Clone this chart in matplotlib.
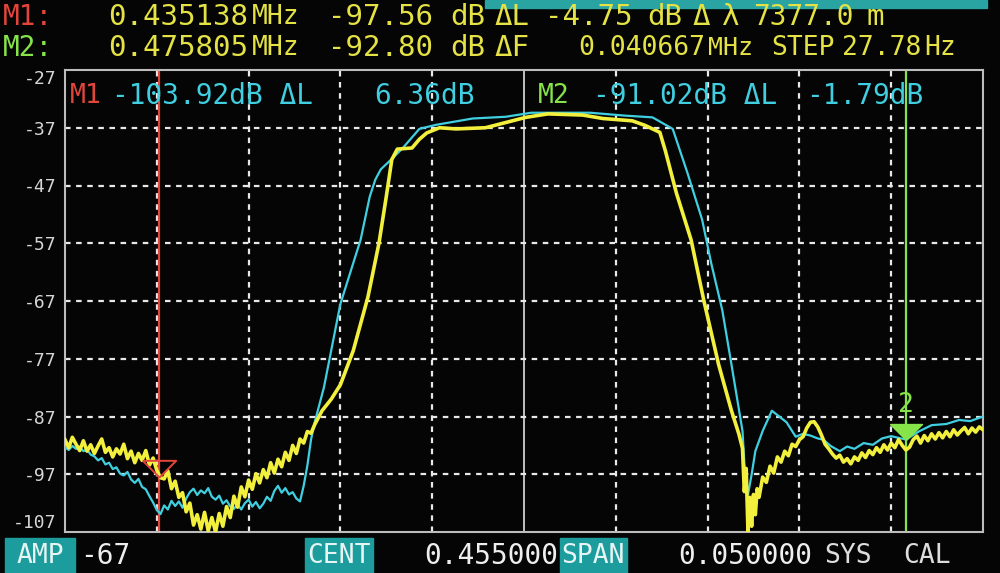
import matplotlib
matplotlib.use("Agg")
import matplotlib.pyplot as plt
from matplotlib.patches import Rectangle

# ---------------------------------------------------------------- data
# yellow trace (MHz, dB)
yellow_freq = [
    0.4300, 0.4302, 0.4304, 0.4306, 0.4308, 0.4310, 0.4312, 0.4314, 0.4316, 0.4318,
    0.4320, 0.4322, 0.4324, 0.4326, 0.4328, 0.4330, 0.4332, 0.4334, 0.4336, 0.4338,
    0.4340, 0.4342, 0.4344, 0.4346, 0.4348, 0.4350, 0.4352, 0.4354, 0.4356, 0.4358,
    0.4360, 0.4362, 0.4364, 0.4366, 0.4368, 0.4370, 0.4372, 0.4374, 0.4376, 0.4378,
    0.4380, 0.4382, 0.4384, 0.4386, 0.4388, 0.4390, 0.4392, 0.4394, 0.4396, 0.4398,
    0.4400, 0.4402, 0.4404, 0.4406, 0.4408, 0.4410, 0.4412, 0.4414, 0.4416, 0.4418,
    0.4420, 0.4422, 0.4424, 0.4426, 0.4428, 0.4430, 0.4432, 0.4434, 0.4436,
    0.4440, 0.4445, 0.4450, 0.4457, 0.4465, 0.4471, 0.4475, 0.4478, 0.4481, 0.4489,
    0.4493, 0.4497, 0.4504, 0.4513, 0.4529, 0.4540, 0.4551, 0.4563, 0.4582, 0.4593,
    0.4609, 0.4616, 0.4624, 0.4627, 0.4633, 0.4641, 0.4648, 0.4656, 0.4663, 0.4667,
    0.4669, 0.4670, 0.4671, 0.4672, 0.4673, 0.4674, 0.4675, 0.4676, 0.4677, 0.4678,
    0.4680, 0.4682, 0.4684, 0.4686, 0.4688, 0.4690, 0.4692, 0.4694, 0.4696, 0.4698,
    0.4700, 0.4702, 0.4704, 0.4706, 0.4708, 0.4710, 0.4712, 0.4714, 0.4716, 0.4718,
    0.4720, 0.4722, 0.4724, 0.4726, 0.4728, 0.4730, 0.4732, 0.4734, 0.4736, 0.4738,
    0.4740, 0.4742, 0.4744, 0.4746, 0.4748, 0.4750, 0.4752, 0.4754, 0.4756, 0.4758,
    0.4760, 0.4762, 0.4764, 0.4766, 0.4768, 0.4770, 0.4772, 0.4774, 0.4776, 0.4778,
    0.4780, 0.4782, 0.4784, 0.4786, 0.4788, 0.4790, 0.4792, 0.4794, 0.4796, 0.4798,
    0.4800,
]
yellow_db = [
    -91.0, -92.4, -90.6, -91.8, -92.9, -91.2, -93.0, -91.9, -93.4, -92.1,
    -90.9, -93.2, -92.4, -94.0, -92.6, -93.5, -91.8, -94.3, -93.0, -95.0,
    -93.4, -94.6, -92.9, -95.4, -94.2, -96.3, -97.6, -97.8, -96.4, -99.5,
    -98.2, -101.0, -100.2, -103.5, -102.0, -105.8, -104.0, -106.5, -103.6, -106.8,
    -104.5, -107.0, -103.8, -106.0, -102.6, -104.5, -100.8, -102.7, -99.2, -100.9,
    -98.0, -99.6, -96.9, -98.5, -96.2, -97.6, -95.0, -96.8, -94.4, -95.7,
    -93.2, -94.6, -92.0, -93.4, -90.9, -91.6, -89.6, -89.9, -88.4,
    -86.0, -84.0, -81.5, -75.6, -66.3, -57.0, -48.9, -42.5, -40.7, -40.5,
    -39.0, -37.9, -37.0, -37.2, -37.0, -36.1, -35.2, -34.6, -34.8, -35.4,
    -35.8, -36.6, -37.8, -41.0, -48.3, -56.4, -67.0, -78.0, -86.0, -90.0,
    -92.5, -100.0, -96.0, -107.0, -101.0, -106.0, -100.5, -104.0, -99.5, -101.0,
    -97.5, -98.4, -95.6, -96.8, -94.0, -94.9, -93.0, -93.8, -91.8, -92.2,
    -91.0, -90.5, -89.0, -88.0, -87.9, -88.8, -90.2, -91.8, -92.6, -93.5,
    -94.2, -93.7, -94.9, -94.3, -95.2, -94.0, -94.6, -93.3, -94.1, -92.9,
    -93.6, -92.4, -93.2, -91.9, -92.8, -91.6, -92.4, -91.0, -92.0, -92.8,
    -92.3, -91.0, -90.4, -91.6, -90.3, -91.2, -90.0, -90.9, -89.8, -90.7,
    -89.6, -90.5, -89.3, -90.2, -89.5, -88.9, -90.0, -89.0, -89.7, -88.8,
    -89.3,
]

# cyan trace (MHz, dB)
cyan_freq = [
    0.4300, 0.4302, 0.4304, 0.4306, 0.4308, 0.4310, 0.4312, 0.4314, 0.4316, 0.4318,
    0.4320, 0.4322, 0.4324, 0.4326, 0.4328, 0.4330, 0.4332, 0.4334, 0.4336, 0.4338,
    0.4340, 0.4342, 0.4344, 0.4346, 0.4348, 0.4350, 0.4352, 0.4354, 0.4356, 0.4358,
    0.4360, 0.4362, 0.4364, 0.4366, 0.4368, 0.4370, 0.4372, 0.4374, 0.4376, 0.4378,
    0.4380, 0.4382, 0.4384, 0.4386, 0.4388, 0.4390, 0.4392, 0.4394, 0.4396, 0.4398,
    0.4400, 0.4402, 0.4404, 0.4406, 0.4408, 0.4410, 0.4412, 0.4414, 0.4416, 0.4418,
    0.4420, 0.4422, 0.4424, 0.4426, 0.4428, 0.4430, 0.4432, 0.4434, 0.4436,
    0.4441, 0.4450, 0.4461, 0.4466, 0.4469, 0.4472, 0.4478, 0.4484, 0.4493, 0.4502,
    0.4522, 0.4540, 0.4554, 0.4586, 0.4605, 0.4620, 0.4631, 0.4639, 0.4647, 0.4652,
    0.4658, 0.4663, 0.4669, 0.4670, 0.4672, 0.4674, 0.4676, 0.4680, 0.4685, 0.4693,
    0.4698, 0.4702, 0.4706, 0.4710, 0.4713, 0.4717, 0.4722, 0.4726, 0.4730, 0.4735,
    0.4740, 0.4745, 0.4750, 0.4758, 0.4765, 0.4772, 0.4780, 0.4787, 0.4793, 0.4800,
]
cyan_db = [
    -92.3, -92.8, -92.1, -92.6, -92.2, -93.0, -92.7, -93.6, -93.9, -94.6,
    -94.2, -95.3, -95.0, -96.1, -95.8, -96.9, -97.2, -96.6, -97.9, -98.5,
    -97.8, -99.2, -99.6, -100.8, -101.9, -103.2, -103.9, -102.4, -103.1, -101.6,
    -102.5, -101.7, -102.8, -101.2, -100.1, -99.5, -100.6, -99.8, -100.3, -99.4,
    -100.9, -101.4, -100.7, -102.1, -101.5, -102.6, -103.0, -102.2, -103.1, -102.0,
    -101.4, -102.6, -101.8, -102.9, -102.1, -100.9, -101.6, -99.9, -99.0, -100.2,
    -99.4, -100.5, -100.1, -101.2, -101.7, -99.0, -95.5, -91.0, -88.0,
    -82.0, -67.5, -56.4, -48.9, -46.0, -44.2, -42.4, -40.5, -37.2, -36.5,
    -35.4, -35.1, -34.4, -34.4, -34.9, -35.2, -37.2, -44.8, -52.9, -60.5,
    -68.6, -78.0, -89.5, -95.0, -100.5, -97.0, -93.0, -89.5, -86.0, -88.0,
    -90.5, -90.0, -90.3, -90.8, -91.0, -92.1, -93.0, -92.2, -92.6, -91.6,
    -91.9, -90.8, -90.4, -91.0, -89.6, -88.5, -88.3, -87.6, -87.8, -87.0,
]

# markers
m1_freq, m1_db = 0.435138, -97.56
m2_freq, m2_db = 0.475805, -91.02

# axis
x_ticks = [0.430, 0.435, 0.440, 0.445, 0.450, 0.455, 0.460, 0.465, 0.470, 0.475, 0.480]
y_ticks = [-107, -97, -87, -77, -67, -57, -47, -37, -27]
y_labels = ["-107", "-97", "-87", "-77", "-67", "-57", "-47", "-37", "-27"]

# ---------------------------------------------------------------- style
W, H = 1000, 573
BG = "#050505"
YEL = "#f2f03c"
CYA = "#3fcfe0"
RED = "#e2453a"
GRN = "#86e34a"
HDR = "#e4e245"
TEAL = "#1c9c9c"
MONO = "DejaVu Sans Mono"

fig = plt.figure(figsize=(W / 100, H / 100), dpi=100, facecolor=BG)
ax = fig.add_axes([65 / W, 1 - 532 / H, 918 / W, 462 / H], facecolor=BG)


def put(x, y, s, color, size, ha="left"):
    fig.text(x / W, 1 - y / H, s, color=color, fontsize=size, family=MONO,
             ha=ha, va="center")


# grid
for xt in x_ticks[1:-1]:
    if abs(xt - 0.455) < 1e-9:
        ax.axvline(xt, color="#cfcfcf", lw=1.3, zorder=1)
    else:
        ax.axvline(xt, color="#e8e8e8", lw=1.6, ls=(0, (2.5, 2.5)), zorder=1)
for yt in y_ticks[1:-1]:
    ax.axhline(yt, color="#e8e8e8", lw=1.6, ls=(0, (2.5, 2.5)), zorder=1)

# marker lines
ax.axvline(m1_freq, color=RED, lw=1.6, zorder=2)
ax.axvline(m2_freq, color=GRN, lw=1.6, zorder=2)

# traces
ax.plot(cyan_freq, cyan_db, color=CYA, lw=1.6, zorder=3)
ax.plot(yellow_freq, yellow_db, color=YEL, lw=2.6, zorder=4)

# marker triangles (tip at the point)
tri = [(-1.0, 1.0), (1.0, 1.0), (0.0, 0.0), (-1.0, 1.0)]
ax.plot([m1_freq], [m1_db], marker=tri, ms=24, mfc="none", mec=RED, mew=1.4,
        zorder=5)
ax.plot([m2_freq], [m2_db], marker=tri, ms=23, mfc=GRN, mec=GRN, zorder=5)
ax.annotate("2", (m2_freq, m2_db), xytext=(0, 25), textcoords="offset points",
            color=GRN, fontsize=19, family=MONO, ha="center", va="center")

ax.set_xlim(x_ticks[0], x_ticks[-1])
ax.set_ylim(y_ticks[0], y_ticks[-1])
ax.set_xticks([])
ax.set_yticks(y_ticks)
ax.set_yticklabels(y_labels)
ax.tick_params(axis="y", length=0, pad=6, labelcolor="#d6d6d6", labelsize=13)
for lab in ax.get_yticklabels():
    lab.set_family(MONO)
labs = ax.get_yticklabels()
labs[0].set_va("bottom")
labs[-1].set_va("top")
for sp in ax.spines.values():
    sp.set_color("#bdbdbd")
    sp.set_linewidth(1.5)

# inner marker readouts
put(70, 96, "M1", RED, 19)
put(112, 96, "-103.92dB ΔL", CYA, 20)
put(374, 96, "6.36dB", CYA, 20)
put(538, 96, "M2", GRN, 19)
put(593, 96, "-91.02dB ΔL", CYA, 20)
put(806, 96, "-1.79dB", CYA, 20)

# header
fig.patches.append(Rectangle((485 / W, 1 - 8 / H), 502 / W, 8 / H,
                             transform=fig.transFigure, color="#2aa3a3"))
put(3, 17, "M1:", RED, 20)
put(108, 17, "0.435138", HDR, 21)
put(252, 17, "MHz", HDR, 19)
put(328, 17, "-97.56", HDR, 21)
put(450, 17, "dB", HDR, 21)
put(494, 17, "ΔL", HDR, 21)
put(545, 17, "-4.75", HDR, 21)
put(647, 17, "dB", HDR, 21)
put(692, 17, "Δ", HDR, 21)
put(722, 17, "λ", HDR, 21)
put(753, 17, "7377.0", HDR, 20)
put(866, 17, "m", HDR, 21)

put(3, 48, "M2:", GRN, 20)
put(108, 48, "0.475805", HDR, 21)
put(252, 48, "MHz", HDR, 19)
put(328, 48, "-92.80", HDR, 21)
put(450, 48, "dB", HDR, 21)
put(494, 48, "ΔF", HDR, 21)
put(578, 48, "0.040667", HDR, 19)
put(708, 48, "MHz", HDR, 18)
put(771, 48, "STEP", HDR, 19)
put(842, 48, "27.78", HDR, 19)
put(924, 48, "Hz", HDR, 19)

# bottom softkey bar
for x0, x1 in [(5, 75), (305, 373), (560, 627)]:
    fig.patches.append(Rectangle((x0 / W, 0), (x1 - x0) / W, 35 / H,
                                 transform=fig.transFigure, color=TEAL))
put(40, 556, "AMP", "#e6f4f4", 19, ha="center")
put(80, 556, "-67", "#eeeeee", 20)
put(339, 556, "CENT", "#e6f4f4", 19, ha="center")
put(424, 556, "0.455000", "#eeeeee", 20)
put(593, 556, "SPAN", "#e6f4f4", 19, ha="center")
put(678, 556, "0.050000", "#eeeeee", 20)
put(824, 556, "SYS", "#dddddd", 19)
put(903, 556, "CAL", "#dddddd", 19)

fig.savefig("out.png", dpi=100, facecolor=BG)
